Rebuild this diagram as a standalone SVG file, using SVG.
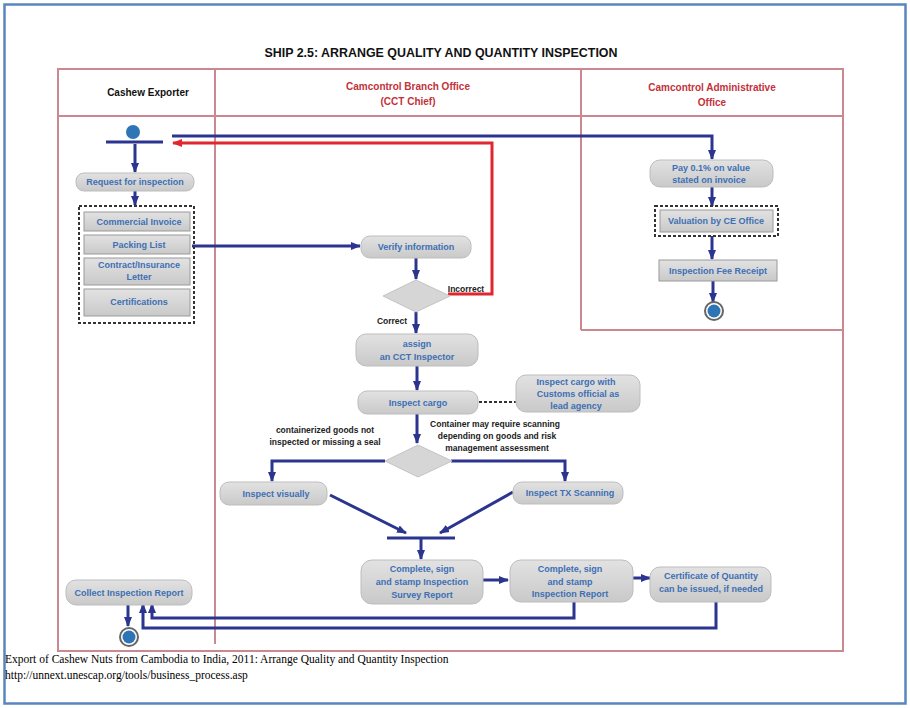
<svg xmlns="http://www.w3.org/2000/svg" width="910" height="708" viewBox="0 0 910 708">
<defs>
<marker id="ah" markerUnits="userSpaceOnUse" markerWidth="10" markerHeight="10" viewBox="0 0 10 10" refX="9" refY="5" orient="auto"><path d="M0,1 L10,5 L0,9 z" fill="#2b3590"/></marker>
<marker id="ahr" markerUnits="userSpaceOnUse" markerWidth="10" markerHeight="10" viewBox="0 0 10 10" refX="9" refY="5" orient="auto"><path d="M0,1 L10,5 L0,9 z" fill="#e0262f"/></marker>
<linearGradient id="g" x1="0" y1="0" x2="0" y2="1"><stop offset="0" stop-color="#e2e2e2"/><stop offset="1" stop-color="#c9c9c9"/></linearGradient>
</defs>
<style>
.box{fill:url(#g);stroke:#bdbdbd;stroke-width:1}
.sq{fill:url(#g);stroke:#9a9a9a;stroke-width:1}
.t{font-family:"Liberation Sans",Arial,sans-serif;font-weight:bold;font-size:9px;fill:#3d6fb4;text-anchor:middle}
.lbl{font-family:"Liberation Sans",Arial,sans-serif;font-weight:bold;font-size:8.5px;fill:#222;text-anchor:middle}
.hd{font-family:"Liberation Sans",Arial,sans-serif;font-weight:bold;font-size:10px;text-anchor:middle}
.ln{fill:none;stroke:#2b3590;stroke-width:3}
.lane{fill:none;stroke:#cc8890;stroke-width:2}
.dash{fill:none;stroke:#333;stroke-width:2;stroke-dasharray:3,2}
.dia{fill:#d6d6d6;stroke:#c4c4c4;stroke-width:1}
.foot{font-family:"Liberation Serif","Times New Roman",serif;font-size:11.5px;fill:#000}
</style>
<rect x="0" y="0" width="910" height="708" fill="#ffffff"/>
<rect x="4.5" y="4.5" width="901" height="699" fill="none" stroke="#5a86c0" stroke-width="2.5"/>
<text x="441" y="57" font-family="'Liberation Sans',Arial,sans-serif" font-weight="bold" font-size="12.5" text-anchor="middle" textLength="353" lengthAdjust="spacingAndGlyphs" fill="#111">SHIP 2.5: ARRANGE QUALITY AND QUANTITY INSPECTION</text>
<g id="lanes">
<rect class="lane" x="58" y="69" width="785" height="582"/>
<line class="lane" x1="58" y1="116" x2="843" y2="116"/>
<line class="lane" x1="215" y1="69" x2="215" y2="644"/>
<line class="lane" x1="581" y1="69" x2="581" y2="330"/>
<line class="lane" x1="581" y1="330" x2="843" y2="330"/>
<text class="hd" x="148" y="96" fill="#111">Cashew Exporter</text>
<text class="hd" x="408" y="90" fill="#c3313b">Camcontrol Branch Office</text>
<text class="hd" x="408" y="105" fill="#c3313b">(CCT Chief)</text>
<text class="hd" x="712" y="91" fill="#c3313b">Camcontrol Administrative</text>
<text class="hd" x="712" y="106" fill="#c3313b">Office</text>
</g>
<g id="connectors">
<polyline class="ln" points="172,136 712,136 712,159" marker-end="url(#ah)"/>
<polyline fill="none" stroke="#e0262f" stroke-width="3" points="448,294 492,294 492,143 173,143" marker-end="url(#ahr)"/>
<line class="ln" x1="135" y1="144" x2="135" y2="172" marker-end="url(#ah)"/>
<line class="ln" x1="135" y1="191" x2="135" y2="205" marker-end="url(#ah)"/>
<line class="ln" x1="192" y1="246" x2="360" y2="246" marker-end="url(#ah)"/>
<line class="ln" x1="416" y1="258" x2="416" y2="279" marker-end="url(#ah)"/>
<line class="ln" x1="416" y1="312" x2="416" y2="333" marker-end="url(#ah)"/>
<line class="ln" x1="417" y1="366" x2="417" y2="390" marker-end="url(#ah)"/>
<line class="dash" x1="479" y1="402" x2="516" y2="402"/>
<line class="ln" x1="417" y1="414" x2="417" y2="443" marker-end="url(#ah)"/>
<polyline class="ln" points="385,461 272,461 272,481" marker-end="url(#ah)"/>
<polyline class="ln" points="451,461 565,461 565,481" marker-end="url(#ah)"/>
<line class="ln" x1="330" y1="495" x2="406" y2="533" marker-end="url(#ah)"/>
<line class="ln" x1="513" y1="492" x2="440" y2="533" marker-end="url(#ah)"/>
<line x1="387" y1="538" x2="455" y2="538" stroke="#2b3590" stroke-width="3"/>
<line class="ln" x1="421" y1="539" x2="421" y2="559" marker-end="url(#ah)"/>
<line class="ln" x1="483" y1="580" x2="508" y2="580" marker-end="url(#ah)"/>
<line class="ln" x1="633" y1="578" x2="650" y2="578" marker-end="url(#ah)"/>
<polyline class="ln" points="574,602 574,618 152,618 152,604" marker-end="url(#ah)"/>
<polyline class="ln" points="716,602 716,628 143,628 143,604" marker-end="url(#ah)"/>
<line class="ln" x1="128" y1="605" x2="128" y2="626" marker-end="url(#ah)"/>
<line class="ln" x1="712" y1="187" x2="712" y2="206" marker-end="url(#ah)"/>
<line class="ln" x1="712" y1="236" x2="712" y2="259" marker-end="url(#ah)"/>
<line class="ln" x1="713" y1="281" x2="713" y2="302" marker-end="url(#ah)"/>
</g>
<g id="start">
<circle cx="133" cy="132" r="7" fill="#2e75b6"/>
<line x1="106" y1="142" x2="163" y2="142" stroke="#2b3590" stroke-width="3"/>
</g>
<g id="request"><rect class="box" x="76" y="173" width="118" height="18" rx="8"/><text class="t" x="135" y="185">Request for inspection</text></g>
<g id="documents">
<rect class="dash" x="79" y="206" width="115" height="117"/>
<rect class="sq" x="84" y="212" width="106" height="19"/><text class="t" x="139" y="225">Commercial Invoice</text>
<rect class="sq" x="84" y="235" width="106" height="19"/><text class="t" x="139" y="248">Packing List</text>
<rect class="sq" x="84" y="258" width="106" height="27"/><text class="t" x="139" y="268">Contract/Insurance</text><text class="t" x="139" y="280">Letter</text>
<rect class="sq" x="84" y="289" width="106" height="27"/><text class="t" x="139" y="305">Certifications</text>
</g>
<g id="verify"><rect class="box" x="361" y="236" width="110" height="22" rx="9"/><text class="t" x="416" y="250">Verify information</text></g>
<g id="decision1"><polygon class="dia" points="383,296 416,280 450,296 416,312"/><text class="lbl" x="466" y="292">Incorrect</text><text class="lbl" x="392" y="324">Correct</text></g>
<g id="assign"><rect class="box" x="356" y="334" width="122" height="32" rx="10"/><text class="t" x="417" y="347">assign</text><text class="t" x="417" y="360">an CCT Inspector</text></g>
<g id="inspectcargo"><rect class="box" x="358" y="391" width="120" height="23" rx="9"/><text class="t" x="418" y="406">Inspect cargo</text></g>
<g id="customs"><rect class="box" x="516" y="375" width="124" height="37" rx="10"/><text class="t" x="576" y="385">Inspect cargo with</text><text class="t" x="578" y="397">Customs official as</text><text class="t" x="576" y="409">lead agency</text></g>
<g id="decision2"><polygon class="dia" points="385,461 418,445 452,461 418,477"/>
<text class="lbl" x="325" y="433">containerized goods not</text><text class="lbl" x="325" y="445">inspected or missing a seal</text>
<text class="lbl" x="495" y="427">Container may require scanning</text><text class="lbl" x="497" y="439">depending on goods and risk</text><text class="lbl" x="497" y="451">management assessment</text></g>
<g id="visually"><rect class="box" x="220" y="482" width="107" height="23" rx="9"/><text class="t" x="276" y="497">Inspect visually</text></g>
<g id="txscan"><rect class="box" x="513" y="482" width="110" height="22" rx="9"/><text class="t" x="570" y="496">Inspect TX Scanning</text></g>
<g id="survey"><rect class="box" x="361" y="560" width="122" height="44" rx="11"/><text class="t" x="422" y="572">Complete, sign</text><text class="t" x="422" y="585">and stamp Inspection</text><text class="t" x="422" y="598">Survey Report</text></g>
<g id="report"><rect class="box" x="510" y="560" width="123" height="42" rx="11"/><text class="t" x="570" y="572">Complete, sign</text><text class="t" x="570" y="585">and stamp</text><text class="t" x="570" y="597">Inspection Report</text></g>
<g id="certificate"><rect class="box" x="650" y="567" width="121" height="35" rx="10"/><text class="t" x="711" y="579">Certificate of Quantity</text><text class="t" x="711" y="592">can be issued, if needed</text></g>
<g id="collect"><rect class="box" x="66" y="580" width="126" height="25" rx="10"/><text class="t" x="129" y="596">Collect Inspection Report</text></g>
<g id="end1"><circle cx="129" cy="637" r="9" fill="#fff" stroke="#666" stroke-width="2"/><circle cx="129" cy="637" r="6.5" fill="#2e75b6"/></g>
<g id="pay"><rect class="box" x="650" y="160" width="123" height="27" rx="10"/><text class="t" x="711" y="171">Pay  0.1% on value</text><text class="t" x="709" y="183">stated on invoice</text></g>
<g id="valuation"><rect class="dash" x="655" y="206" width="123" height="30"/><rect class="sq" x="660" y="210" width="113" height="22"/><text class="t" x="716" y="224">Valuation by CE Office</text></g>
<g id="fee"><rect class="sq" x="659" y="260" width="118" height="21"/><text class="t" x="718" y="274">Inspection Fee Receipt</text></g>
<g id="end2"><circle cx="714" cy="311" r="9" fill="#fff" stroke="#666" stroke-width="2"/><circle cx="714" cy="311" r="6.5" fill="#2e75b6"/></g>
<text class="foot" x="5" y="663">Export of Cashew Nuts from Cambodia to India, 2011: Arrange Quality and Quantity Inspection</text>
<text class="foot" x="5" y="679">http://unnext.unescap.org/tools/business_process.asp</text>
</svg>
